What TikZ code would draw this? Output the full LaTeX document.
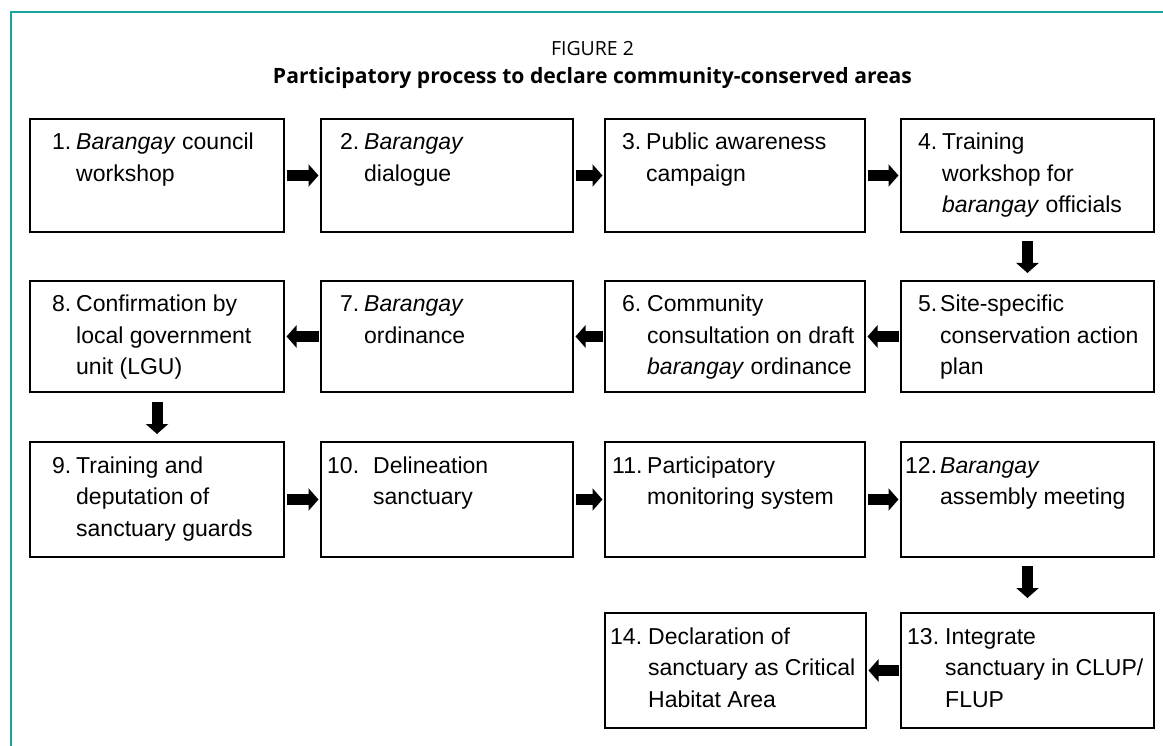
\documentclass[tikz,border=0pt]{standalone}
\usepackage{fontspec}
\setmainfont{Liberation Sans}
\newfontfamily\titlefont{Open Sans}
\usetikzlibrary{arrows.meta}
\definecolor{frameteal}{RGB}{24,163,156}
\tikzset{
  stepbox/.style={draw=black, line width=2.4pt, inner sep=0pt, outer sep=0pt},
  numtxt/.style={anchor=base west, inner sep=0pt, font=\fontsize{23}{31.5}\selectfont},
  bodytxt/.style={anchor=base west, inner sep=0pt, font=\fontsize{23}{31.5}\selectfont},
  blockarrow/.style={line width=11pt, -{Triangle[length=10pt,width=22pt]}},
  hgap/.style={shorten <=2.5pt, shorten >=2.5pt},
}
% name, left, top, right, bottom, numx, textx, number, text
\newcommand\flowbox[9]{%
  \node[stepbox, minimum width={(#4-#2)*1pt}, minimum height={(#5-#3)*1pt}] (#1) at ({(#2+#4)/2},{(#3+#5)/2}) {};
  \node[numtxt] (#1n) at ({#6},{#3+31}) {#8};
  \node[bodytxt] (#1t) at ({#7},{#3+31}) {\parbox[t]{300pt}{\raggedright #9}};
}
\begin{document}
\begin{tikzpicture}[x=1pt,y=-1pt]
\useasboundingbox (0,0) rectangle (1163,746);
\fill[white] (0,0) rectangle (1163,746);
% frame
\coordinate (fa) at (10.5,746);
\coordinate (fb) at (10.5,12.5);
\coordinate (fc) at (1163,12.5);
\draw[frameteal, line width=2pt] (fa) -- (fb) -- (fc);
% titles
\node[anchor=base, inner sep=0pt, font=\titlefont\fontsize{19.5}{22}\selectfont] (fig) at (592.5,56) {FIGURE 2};
\node[anchor=base, inner sep=0pt] (title) at (592.5,84) {\resizebox{639pt}{!}{\titlefont\bfseries Participatory process to declare community-conserved areas}};
% row 1
\flowbox{b1}{30}{119}{284}{232}{52}{76}{1.}{\textit{Barangay} council\\workshop}
\flowbox{b2}{321}{119}{573}{232}{340}{364}{2.}{\textit{Barangay}\\dialogue}
\flowbox{b3}{605}{119}{865}{232}{622}{646}{3.}{Public awareness\\campaign}
\flowbox{b4}{901}{119}{1154}{232}{918}{942}{4.}{Training\\workshop for\\\textit{barangay} officials}
% row 2
\flowbox{b5}{901}{281}{1154}{392}{918}{940}{5.}{Site-specific\\conservation action\\plan}
\flowbox{b6}{605}{281}{865}{392}{622}{647}{6.}{Community\\consultation on draft\\\textit{barangay} ordinance}
\flowbox{b7}{321}{281}{573}{392}{340}{364}{7.}{\textit{Barangay}\\ordinance}
\flowbox{b8}{30}{281}{284}{392}{52}{76}{8.}{Confirmation by\\local government\\unit (LGU)}
% row 3
\flowbox{b9}{30}{442}{284}{557}{52}{76}{9.}{Training and\\deputation of\\sanctuary guards}
\flowbox{b10}{321}{442}{573}{557}{327}{373}{10.}{Delineation\\sanctuary}
\flowbox{b11}{605}{442}{865}{557}{612}{647}{11.}{Participatory\\monitoring system}
\flowbox{b12}{901}{442}{1154}{557}{905}{940}{12.}{\textit{Barangay}\\assembly meeting}
% row 4
\flowbox{b13}{901}{613}{1154}{728}{907}{945}{13.}{Integrate\\sanctuary in CLUP/\\FLUP}
\flowbox{b14}{605}{613}{866}{728}{610}{648}{14.}{Declaration of\\sanctuary as Critical\\Habitat Area}
% arrows
\draw[blockarrow, hgap] (b1) -- (b2);
\draw[blockarrow, hgap] (b2) -- (b3);
\draw[blockarrow, hgap] (b3) -- (b4);
\draw[blockarrow, shorten <=9pt, shorten >=8pt] (b4) -- (b5);
\draw[blockarrow, hgap] (b5) -- (b6);
\draw[blockarrow, hgap] (b6) -- (b7);
\draw[blockarrow, hgap] (b7) -- (b8);
\draw[blockarrow, shorten <=10pt, shorten >=8pt] (b8) -- (b9);
\draw[blockarrow, hgap] (b9) -- (b10);
\draw[blockarrow, hgap] (b10) -- (b11);
\draw[blockarrow, hgap] (b11) -- (b12);
\draw[blockarrow, shorten <=9pt, shorten >=15pt] (b12) -- (b13);
\draw[blockarrow, hgap] (b13) -- (b14);
\end{tikzpicture}
\end{document}
